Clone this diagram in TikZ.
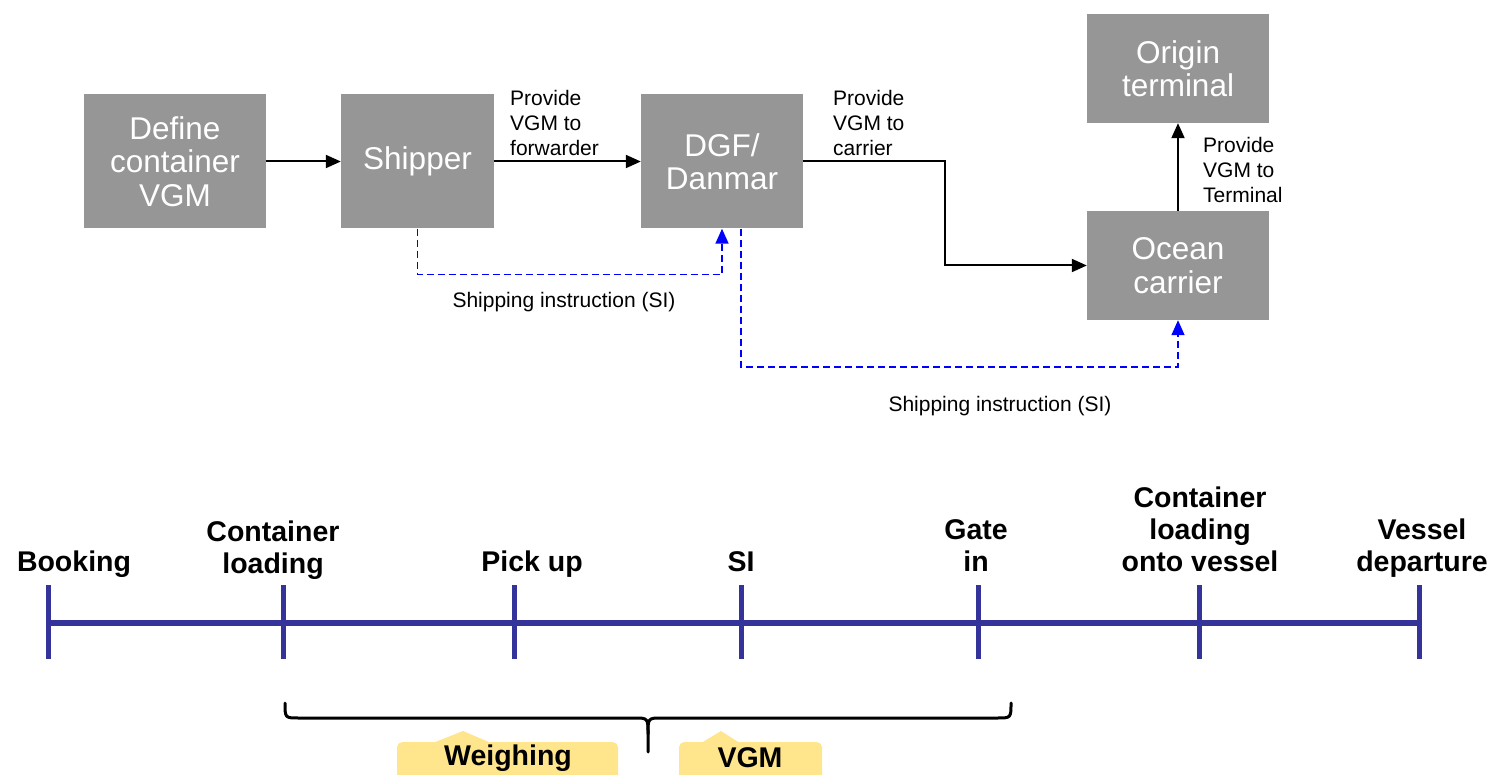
\documentclass[tikz,border=0pt]{standalone}
\usepackage{fontspec}
\setmainfont{Liberation Sans}
\usetikzlibrary{arrows.meta,calc}
\definecolor{boxgray}{RGB}{150,150,150}
\definecolor{tlblue}{RGB}{51,51,153}
\definecolor{siblue}{RGB}{0,0,255}
\definecolor{callyellow}{RGB}{255,229,140}
\begin{document}
\begin{tikzpicture}[x=1pt,y=-1pt,
  box/.style={fill=boxgray, text=white, align=center, font=\fontsize{31.5}{33.5}\selectfont, inner sep=0pt},
  lbl/.style={align=left, font=\fontsize{21}{25}\selectfont, inner sep=0pt, anchor=north west},
  silbl/.style={font=\fontsize{21}{25}\selectfont, inner sep=0pt},
  arr/.style={line width=2pt, -{Triangle[length=15pt,width=13pt]}},
  si/.style={siblue, line width=1.6pt, dash pattern=on 7pt off 4pt, -{Triangle[length=15pt,width=13pt]}},
  tl/.style={tlblue, line width=6pt},
  tickmark/.style={tlblue, line width=5pt},
  tlab/.style={align=center, font=\bfseries\fontsize{28.5}{32}\selectfont, inner sep=0pt, anchor=south, text depth=0pt},
  brc/.style={line width=3pt, line cap=round},
  callout/.style={fill=callyellow, rounded corners=5pt, inner sep=0pt, anchor=north, text depth=0pt},
  calltext/.style={font=\bfseries\fontsize{28.5}{32}\selectfont, inner sep=0pt}
]
\useasboundingbox (0,0) rectangle (1495,775);

% process boxes
\node[box, minimum width=182pt, minimum height=134pt] (define) at (175,161.5) {Define\\container\\VGM};
\node[box, minimum width=153pt, minimum height=134pt] (shipper) at (417.5,161.5) {Shipper};
\node[box, minimum width=162pt, minimum height=134pt] (dgf) at (722,161.5) {DGF/\\Danmar};
\node[box, minimum width=182pt, minimum height=109pt] (origin) at (1178,68.5) {Origin\\terminal};
\node[box, minimum width=182pt, minimum height=109pt] (ocean) at (1178,265.5) {Ocean\\carrier};

% connectors
\draw[arr] (define.east) -- (shipper.west);
\draw[arr] (shipper.east) -- (dgf.west);
\coordinate (mid) at ($(dgf.east)!0.5!(ocean.west)$);
\draw[arr] (dgf.east) -| (mid) |- (ocean.west);
\draw[arr] (ocean.north) -- (origin.south);

\draw[si] (shipper.south) -- ++(0,46) -| (dgf.south);
\coordinate (dgfsi) at ([xshift=19pt]dgf.south);
\draw[si] (dgfsi) -- ++(0,138) -| (ocean.south);

% connector labels
\node[lbl] (l1) at (510,90) {Provide\\VGM to\\forwarder};
\node[lbl] (l2) at (833,90) {Provide\\VGM to\\carrier};
\node[lbl] (l3) at (1203,137) {Provide\\VGM to\\Terminal};
\node[silbl] (s1) at (564,302) {Shipping instruction (SI)};
\node[silbl] (s2) at (1000,406) {Shipping instruction (SI)};

% timeline
\coordinate (t1) at (48,623);
\coordinate (t2) at (283,623);
\coordinate (t3) at (514,623);
\coordinate (t4) at (741,623);
\coordinate (t5) at (978,623);
\coordinate (t6) at (1199,623);
\coordinate (t7) at (1419,623);
\draw[tl] (t1) -- (t7);
\foreach \t in {t1,t2,t3,t4,t5,t6,t7}
  \draw[tickmark] ([yshift=-36pt]\t) -- ([yshift=38pt]\t);

\node[tlab] (b1) at (74,572) {Booking};
\node[tlab] (b2) at (273,574) {Container\\loading};
\node[tlab] (b3) at (532,572) {Pick up};
\node[tlab] (b4) at (741,572) {SI};
\node[tlab] (b5) at (976,572) {Gate\\in};
\node[tlab] (b6) at (1200,572) {Container\\loading\\onto vessel};
\node[tlab] (b7) at (1422,572) {Vessel\\departure};

% brace
\coordinate (bl) at (285,703);
\coordinate (br) at (1011,703);
\coordinate (bt) at (648,752);
\draw[brc] (bl) .. controls (285,718) .. (299,718) -- (634,718)
  .. controls (648,718) .. (648,734) -- (bt);
\draw[brc] (br) .. controls (1011,718) .. (997,718) -- (662,718)
  .. controls (648,718) .. (648,734);

% callouts
\node[callout, minimum width=221pt, minimum height=48pt] (weigh) at (507.5,742) {};
\fill[callyellow] (434,742.5) -- (463,731) -- (490,742.5) -- cycle;
\node[calltext] (weight) at (508,758) {Weighing};
\node[callout, minimum width=143pt, minimum height=48pt] (vgm) at (750.5,742) {};
\fill[callyellow] (702,742.5) -- (721,731) -- (739,742.5) -- cycle;
\node[calltext] (vgmt) at (750,758) {VGM};
\end{tikzpicture}
\end{document}
